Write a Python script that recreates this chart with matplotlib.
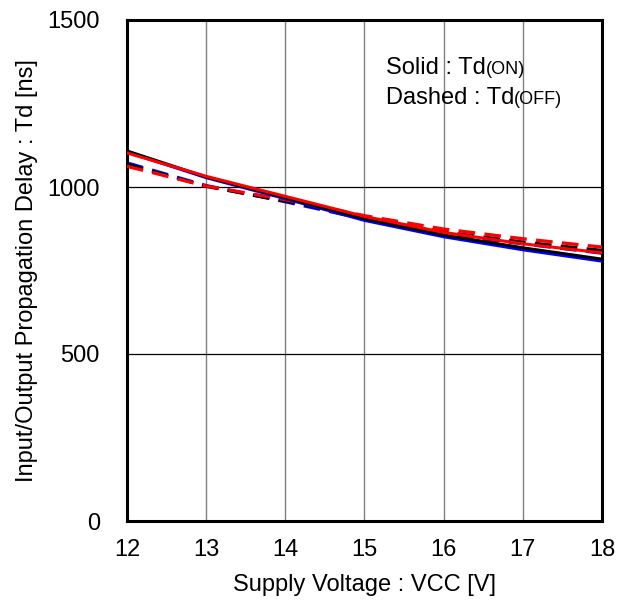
import matplotlib
matplotlib.use("Agg")
import matplotlib.pyplot as plt

plt.rcParams['font.family'] = ['Liberation Sans', 'DejaVu Sans']

vcc = [12, 13, 14, 15, 16, 17, 18]
on_black = [1108, 1030, 968, 905, 856, 818, 784]
on_blue = [1105, 1028, 965, 900, 851, 812, 778]
on_red = [1102, 1032, 972, 912, 864, 830, 803]
off_black = [1068, 1002, 958, 908, 865, 835, 810]
off_blue = [1072, 1004, 956, 904, 860, 830, 802]
off_red = [1062, 1003, 962, 914, 874, 845, 820]

xticks = [12, 13, 14, 15, 16, 17, 18]
yticks = [0, 500, 1000, 1500]

W, H = 624, 611
fig = plt.figure(figsize=(W / 100, H / 100), dpi=100)
ax = fig.add_axes([127 / W, (H - 521) / H, (602 - 127) / W, (521 - 20) / H])

for x in xticks[1:-1]:
    ax.axvline(x, color='#808080', lw=1.0, zorder=1)
for y in yticks[1:-1]:
    ax.axhline(y, color='black', lw=0.9, zorder=1)

dash = (0, (5, 2.8))
ax.plot(vcc, off_blue, color='#0000ff', lw=2.4, linestyle=dash, zorder=2)
ax.plot(vcc, off_black, color='black', lw=2.4, linestyle=dash, zorder=3)
ax.plot(vcc, off_red, color='#ff0000', lw=2.4, linestyle=dash, zorder=4)
ax.plot(vcc, on_blue, color='#0000ff', lw=2.2, zorder=5)
ax.plot(vcc, on_black, color='black', lw=2.2, zorder=6)
ax.plot(vcc, on_red, color='#ff0000', lw=2.2, zorder=7)

FS = 17
ax.set_xlim(12, 18)
ax.set_ylim(0, 1500)
ax.set_xticks(xticks)
ax.set_yticks(yticks)
ax.tick_params(length=0, labelsize=FS)
ax.tick_params(axis='y', pad=19.5)
ax.tick_params(axis='x', pad=12.6)
for s in ax.spines.values():
    s.set_linewidth(2.2)

ax.set_xlabel('Supply Voltage : VCC [V]', fontsize=FS, labelpad=10)
ax.set_ylabel('Input/Output Propagation Delay : Td [ns]', fontsize=FS, labelpad=7)

fig.canvas.draw()
r = fig.canvas.get_renderer()
for y, main, sub in [(1338, 'Solid : Td', '(ON)'), (1248, 'Dashed : Td', '(OFF)')]:
    t = ax.text(15.27, y, main, fontsize=FS, va='baseline', ha='left')
    bb = t.get_window_extent(renderer=r)
    xd = ax.transData.inverted().transform((bb.x1, bb.y0))[0]
    ax.text(xd, y, sub, fontsize=13, va='baseline', ha='left')

fig.savefig('out.png', dpi=100)
